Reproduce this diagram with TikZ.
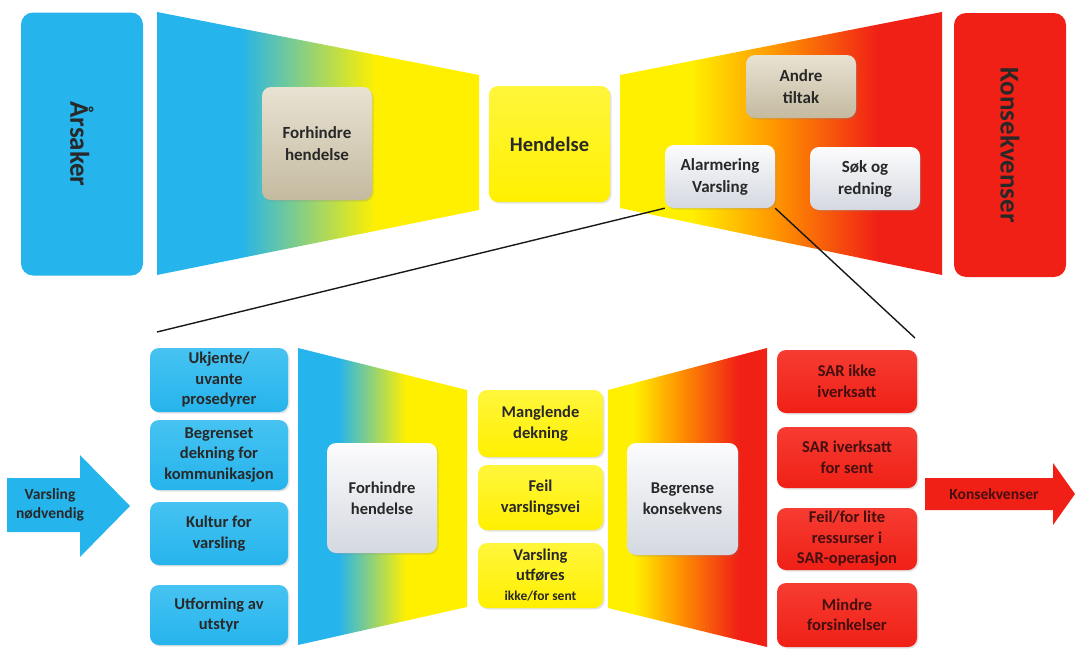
\documentclass[tikz,border=0pt]{standalone}
\usepackage{fontspec}
\setmainfont{Carlito}
\usetikzlibrary{shadows}
\definecolor{cblue}{RGB}{38,180,236}
\definecolor{cblueT}{RGB}{70,195,242}
\definecolor{cyel}{RGB}{255,240,0}
\definecolor{cyelT}{RGB}{255,246,60}
\definecolor{cred}{RGB}{240,32,22}
\definecolor{credT}{RGB}{246,60,50}
\definecolor{corange}{RGB}{255,150,0}
\definecolor{beigeT}{RGB}{232,226,210}
\definecolor{beigeB}{RGB}{196,186,160}
\definecolor{grayT}{RGB}{252,252,253}
\definecolor{grayB}{RGB}{212,216,224}
\definecolor{txt}{RGB}{40,40,40}
\definecolor{redtxt}{RGB}{70,15,15}
\definecolor{linec}{RGB}{25,25,25}
\pgfdeclarehorizontalshading{byT}{100bp}{color(0bp)=(cblue); color(38bp)=(cblue); color(59bp)=(cyel); color(100bp)=(cyel)}
\pgfdeclarehorizontalshading{yrT}{100bp}{color(0bp)=(cyel); color(36bp)=(cyel); color(49bp)=(corange); color(65bp)=(cred); color(100bp)=(cred)}
\pgfdeclarehorizontalshading{byB}{100bp}{color(0bp)=(cblue); color(37bp)=(cblue); color(57bp)=(cyel); color(100bp)=(cyel)}
\pgfdeclarehorizontalshading{yrB}{100bp}{color(0bp)=(cyel); color(33bp)=(cyel); color(47bp)=(corange); color(66bp)=(cred); color(100bp)=(cred)}
\tikzset{
  base/.style={rounded corners=9pt, align=center, inner sep=0pt, text=txt,
    font=\bfseries\fontsize{17}{22}\selectfont},
  shad/.style={drop shadow={opacity=0.22, shadow xshift=1.5pt, shadow yshift=-1.5pt}},
  beigebox/.style={base, shad, top color=beigeT, bottom color=beigeB},
  graybox/.style={base, shad, top color=grayT, bottom color=grayB},
  yelbox/.style={base, shad, top color=cyelT, bottom color=cyel},
  bluebox/.style={base, shad, top color=cblueT, bottom color=cblue,
    font=\bfseries\fontsize{16.5}{20.5}\selectfont},
  redbox/.style={base, shad, top color=credT, bottom color=cred, text=redtxt,
    font=\bfseries\fontsize{16.5}{20.5}\selectfont},
  bigbox/.style={rounded corners=12pt, inner sep=0pt, text=txt,
    font=\bfseries\fontsize{27}{30}\selectfont},
  zoomline/.style={draw=linec, line width=1.4pt},
}
\begin{document}
\begin{tikzpicture}[x=1pt, y=-1pt]
\useasboundingbox (0,0) rectangle (1076,648);
% ---------- top row ----------
\shade[shading=byT] (157,12) -- (479,75) -- (479,210) -- (157,275) -- cycle;
\shade[shading=yrT] (620,75) -- (942,12) -- (942,275) -- (620,208) -- cycle;
\node[bigbox, fill=cblue, rotate=-90, minimum width=263pt, minimum height=122pt] (arsaker) at (82,144) {Årsaker};
\node[bigbox, fill=cred, rotate=-90, minimum width=264pt, minimum height=112pt] (konsT) at (1010,145) {Konsekvenser};
\node[beigebox, minimum width=110pt, minimum height=113pt] (forhT) at (317,143.5) {Forhindre\\hendelse};
\node[yelbox, minimum width=121pt, minimum height=116pt, font=\bfseries\fontsize{20.5}{24}\selectfont] (hend) at (549.5,144) {Hendelse};
\node[beigebox, minimum width=110pt, minimum height=63pt] (andre) at (801,86.5) {Andre\\tiltak};
\node[graybox, minimum width=110pt, minimum height=63pt] (alarm) at (720,176.5) {Alarmering\\Varsling};
\node[graybox, minimum width=110pt, minimum height=63pt] (sok) at (865,178.5) {Søk og\\redning};
\coordinate (zl) at (157,332);
\coordinate (zr) at (915,338);
\draw[zoomline] (alarm.south west) -- (zl);
\draw[zoomline] (alarm.south east) -- (zr);
% ---------- bottom row ----------
\shade[shading=byB] (298,348) -- (467,390) -- (467,607) -- (298,645) -- cycle;
\shade[shading=yrB] (608,390) -- (767,348) -- (767,647) -- (608,608) -- cycle;
\fill[cblue] (7,478) coordinate (a1) -- (80,478) -- (80,455) -- (130,506) coordinate (atip) -- (80,557) -- (80,532) -- (7,532) -- cycle;
\node[text=txt, align=center, font=\bfseries\fontsize{15.5}{19}\selectfont] (varsn) at (50,505) {Varsling\\nødvendig};
\node[bluebox, minimum width=138pt, minimum height=64pt] (uk) at (219,380) {Ukjente/\\uvante\\prosedyrer};
\node[bluebox, minimum width=138pt, minimum height=70pt] (beg) at (219,455) {Begrenset\\dekning for\\kommunikasjon};
\node[bluebox, minimum width=138pt, minimum height=63pt] (kul) at (219,533.5) {Kultur for\\varsling};
\node[bluebox, minimum width=138pt, minimum height=60pt] (utf) at (219,615) {Utforming av\\utstyr};
\node[graybox, minimum width=110pt, minimum height=110pt, font=\bfseries\fontsize{16.5}{21}\selectfont] (forhB) at (382,498) {Forhindre\\hendelse};
\node[yelbox, minimum width=125pt, minimum height=67pt, font=\bfseries\fontsize{16.5}{21}\selectfont] (mang) at (540.5,423.5) {Manglende\\dekning};
\node[yelbox, minimum width=125pt, minimum height=65pt, font=\bfseries\fontsize{16.5}{21}\selectfont] (feil) at (540.5,497.5) {Feil\\varslingsvei};
\node[yelbox, minimum width=125pt, minimum height=65pt, font=\bfseries\fontsize{16.5}{20}\selectfont] (vutf) at (540.5,575.5) {Varsling\\utføres\\{\fontsize{13.5}{16}\selectfont ikke/for sent}};
\node[graybox, minimum width=111pt, minimum height=112pt, font=\bfseries\fontsize{16.5}{21}\selectfont] (begr) at (682.5,499) {Begrense\\konsekvens};
\node[redbox, minimum width=140pt, minimum height=63pt] (sar1) at (847,381.5) {SAR ikke\\iverksatt};
\node[redbox, minimum width=140pt, minimum height=61pt] (sar2) at (847,457.5) {SAR iverksatt\\for sent};
\node[redbox, minimum width=140pt, minimum height=62pt] (feilr) at (847,539) {Feil/for lite\\ressurser i\\SAR-operasjon};
\node[redbox, minimum width=140pt, minimum height=64pt] (mindre) at (847,615) {Mindre\\forsinkelser};
\fill[cred] (925,478) -- (1053,478) -- (1053,463) -- (1075,494) coordinate (btip) -- (1053,525) -- (1053,510) -- (925,510) -- cycle;
\node[text=redtxt, font=\bfseries\fontsize{15.5}{19}\selectfont] (konsB) at (994,494) {Konsekvenser};
\end{tikzpicture}
\end{document}
